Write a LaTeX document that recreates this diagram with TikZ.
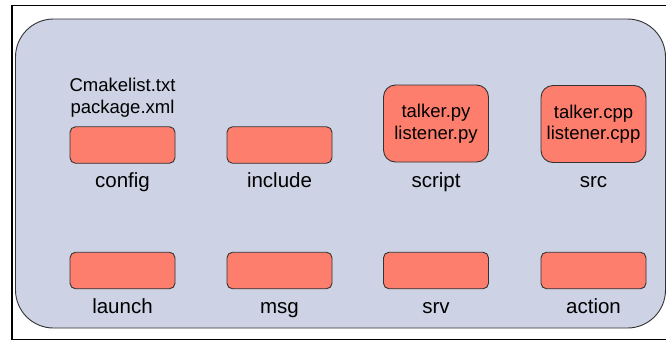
\documentclass[tikz,border=0pt]{standalone}
\usepackage{fontspec}
\setmainfont{Liberation Sans}
\definecolor{panelfill}{HTML}{CDD2E4}
\definecolor{salmon}{HTML}{FE7E6D}
\definecolor{edge}{HTML}{333333}
\begin{document}
\begin{tikzpicture}[x=1pt,y=-1pt,
  folder/.style={draw=edge, fill=salmon, rounded corners=5.5pt, line width=0.9pt,
    minimum width=105pt, minimum height=36.5pt, inner sep=0pt},
  filesbox/.style={folder, minimum height=77pt, rounded corners=12pt, align=center,
    font=\fontsize{18.5}{21.5}\selectfont},
  lbl/.style={anchor=base, font=\fontsize{20.5}{24}\selectfont},
  filelist/.style={align=center, inner sep=0pt, font=\fontsize{18.5}{22}\selectfont}
]
\useasboundingbox (0,0) rectangle (666,341);

% outer frame and package panel
\draw[line width=1.8pt, black] (12,5.5) rectangle (680,339.5);
\draw[draw=edge, fill=panelfill, line width=0.9pt, rounded corners=38pt]
  (15.5,19) rectangle (665.5,328);

% top row
\node[folder] (config) at (122.5,145) {};
\node[folder] (include) at (279.5,145) {};
\node[filesbox] (script) at (436,123.5) {talker.py\\listener.py};
\node[filesbox] (src) at (593.5,124) {talker.cpp\\listener.cpp};

\node[filelist] (configfiles) at (122.5,97.7) {Cmakelist.txt\\package.xml};

\node[lbl] (configlbl) at (122.5,187.7) {config};
\node[lbl] (includelbl) at (279.5,187.7) {include};
\node[lbl] (scriptlbl) at (436,187.7) {script};
\node[lbl] (srclbl) at (593.5,187.7) {src};

% bottom row
\node[folder] (launch) at (122.5,270.5) {};
\node[folder] (msg) at (279.5,270.5) {};
\node[folder] (srv) at (436,270.5) {};
\node[folder] (action) at (593.5,270.5) {};

\node[lbl] (launchlbl) at (122.5,313) {launch};
\node[lbl] (msglbl) at (279.5,313) {msg};
\node[lbl] (srvlbl) at (436,313) {srv};
\node[lbl] (actionlbl) at (593.5,313) {action};
\end{tikzpicture}
\end{document}
